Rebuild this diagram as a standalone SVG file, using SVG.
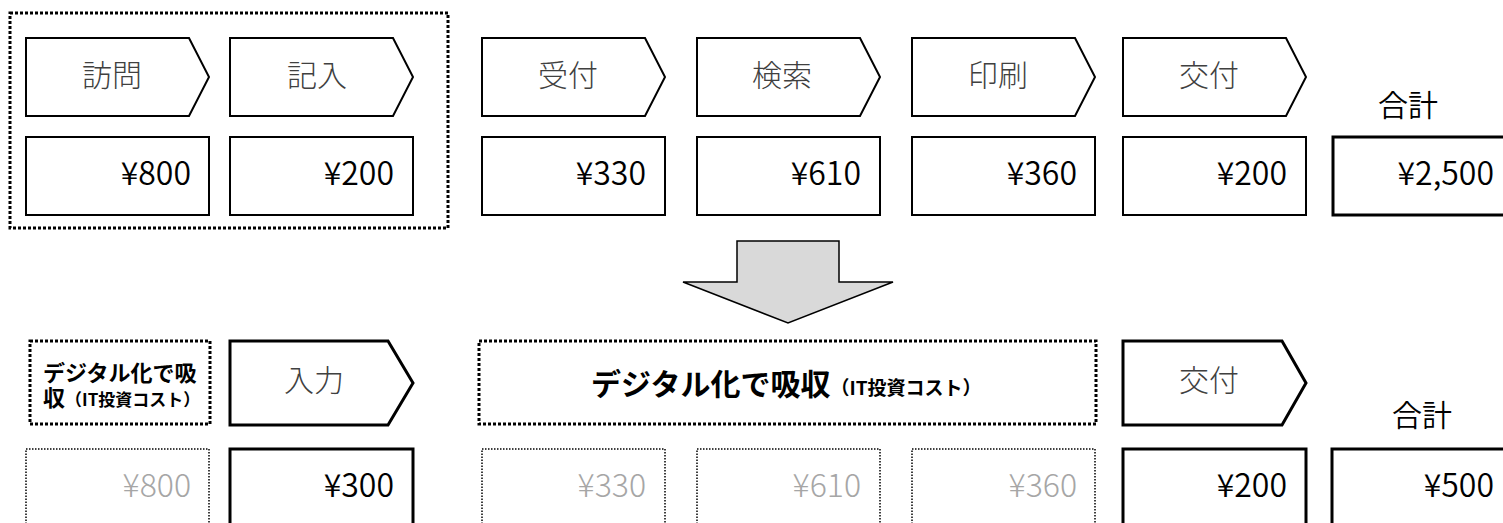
<svg xmlns="http://www.w3.org/2000/svg" width="1503" height="523" viewBox="0 0 1503 523">
<style>
.step{fill:#fff;stroke:#000;stroke-width:2;stroke-linejoin:miter}
.stepB{fill:#fff;stroke:#000;stroke-width:3;stroke-linejoin:miter}
.box{fill:#fff;stroke:#000;stroke-width:2}
.boxB{fill:#fff;stroke:#000;stroke-width:3}
.ghost{fill:#fff;stroke:#000;stroke-width:1.5;stroke-dasharray:1.5 1.5}
.group{fill:none;stroke:#000;stroke-width:3;stroke-dasharray:3 2}
.lbl{font-family:"Noto Sans CJK JP","Noto Sans",sans-serif;font-size:30px;font-weight:300;fill:#404040;text-anchor:middle}
.price{font-family:"Noto Sans CJK JP","Noto Sans",sans-serif;font-size:32px;font-weight:350;fill:#000;text-anchor:end}
.gprice{font-family:"Noto Sans CJK JP","Noto Sans",sans-serif;font-size:32px;font-weight:300;fill:#a6a6a6;text-anchor:end}
.total{font-family:"Noto Sans CJK JP","Noto Sans",sans-serif;font-size:30px;font-weight:350;fill:#000;text-anchor:middle}
.dig{font-family:"Noto Sans CJK JP","Noto Sans",sans-serif;font-weight:700;fill:#000}
</style>

<!-- top row -->
<g id="group-before"><rect class="group" x="10" y="13" width="438" height="215"/></g>

<g id="n-houmon"><path class="step" d="M26 38 H189 L209 77 L189 116 H26 Z"/><text class="lbl" x="112" y="86">訪問</text></g>
<g id="n-kinyu"><path class="step" d="M230 38 H393 L413 77 L393 116 H230 Z"/><text class="lbl" x="317" y="86">記入</text></g>
<g id="n-uketsuke"><path class="step" d="M482 38 H645 L665 77 L645 116 H482 Z"/><text class="lbl" x="568" y="86">受付</text></g>
<g id="n-kensaku"><path class="step" d="M697 38 H860 L880 77 L860 116 H697 Z"/><text class="lbl" x="782" y="86">検索</text></g>
<g id="n-insatsu"><path class="step" d="M912 38 H1075 L1095 77 L1075 116 H912 Z"/><text class="lbl" x="998" y="86">印刷</text></g>
<g id="n-koufu"><path class="step" d="M1123 38 H1286 L1306 77 L1286 116 H1123 Z"/><text class="lbl" x="1209" y="86">交付</text></g>

<g id="p-800"><rect class="box" x="26" y="137" width="183" height="78"/><text class="price" x="191" y="185">¥800</text></g>
<g id="p-200a"><rect class="box" x="230" y="137" width="183" height="78"/><text class="price" x="394" y="185">¥200</text></g>
<g id="p-330"><rect class="box" x="482" y="137" width="183" height="78"/><text class="price" x="646" y="185">¥330</text></g>
<g id="p-610"><rect class="box" x="697" y="137" width="183" height="78"/><text class="price" x="861" y="185">¥610</text></g>
<g id="p-360"><rect class="box" x="912" y="137" width="183" height="78"/><text class="price" x="1077" y="185">¥360</text></g>
<g id="p-200b"><rect class="box" x="1123" y="137" width="183" height="78"/><text class="price" x="1287" y="185">¥200</text></g>
<g id="total-before"><text class="total" x="1408" y="116">合計</text><rect class="boxB" x="1333" y="137" width="200" height="78"/><text class="price" x="1494" y="185">¥2,500</text></g>

<!-- connector arrow -->
<g id="connectors"><path d="M737 241 H839 V282 H893 L788 323 L683 282 H737 Z" fill="#d9d9d9" stroke="#000" stroke-width="1.5" stroke-linejoin="miter"/></g>

<!-- bottom row -->
<g id="n-digital-small"><rect class="group" x="30" y="341" width="180" height="83"/>
<text class="dig" x="43" y="381" font-size="22">デジタル化で吸<tspan x="43" dy="25">収</tspan><tspan font-size="17">（IT投資コスト）</tspan></text></g>

<g id="n-nyuryoku"><path class="stepB" d="M230 341 H388 L413 383 L388 425 H230 Z"/><text class="lbl" x="314" y="391">入力</text></g>

<g id="n-digital-big"><rect class="group" x="479" y="341" width="617" height="83"/>
<text class="dig" x="591" y="395"><tspan font-size="30">デジタル化で吸収</tspan><tspan font-size="19">（IT投資コスト）</tspan></text></g>

<g id="n-koufu2"><path class="stepB" d="M1123 341 H1282 L1306 383 L1282 425 H1123 Z"/><text class="lbl" x="1209" y="391">交付</text></g>

<g id="g-800"><rect class="ghost" x="26" y="449" width="183" height="90"/><text class="gprice" x="191" y="497">¥800</text></g>
<g id="p-300"><rect class="boxB" x="230" y="449" width="183" height="90"/><text class="price" x="394" y="497">¥300</text></g>
<g id="g-330"><rect class="ghost" x="482" y="449" width="183" height="90"/><text class="gprice" x="646" y="497">¥330</text></g>
<g id="g-610"><rect class="ghost" x="697" y="449" width="183" height="90"/><text class="gprice" x="861" y="497">¥610</text></g>
<g id="g-360"><rect class="ghost" x="912" y="449" width="183" height="90"/><text class="gprice" x="1077" y="497">¥360</text></g>
<g id="p-200c"><rect class="boxB" x="1123" y="449" width="183" height="90"/><text class="price" x="1287" y="497">¥200</text></g>
<g id="total-after"><text class="total" x="1422" y="426">合計</text><rect class="boxB" x="1332" y="449" width="200" height="90"/><text class="price" x="1494" y="497">¥500</text></g>
</svg>
